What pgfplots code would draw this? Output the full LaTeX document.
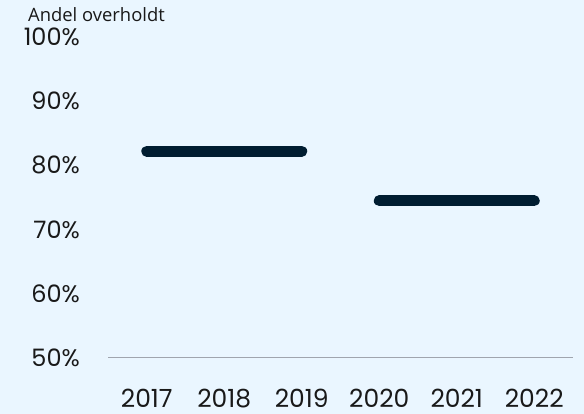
\documentclass[border=0pt]{standalone}
\usepackage{fontspec}
\setmainfont{Poppins}
\newfontfamily\titlefont{Open Sans}
\usepackage{pgfplots}
\pgfplotsset{compat=1.18}
\definecolor{bg}{HTML}{EAF6FF}
\definecolor{navy}{HTML}{001D31}
\definecolor{basegray}{HTML}{A0A5AE}
\begin{document}
\begin{tikzpicture}
\fill[bg] (0,0) rectangle (584pt,414pt);
\useasboundingbox (0,0) rectangle (584pt,414pt);
\begin{axis}[at={(108pt,56pt)}, anchor=south west, scale only axis, width=465pt, height=321pt,
  xmin=-0.5, xmax=5.5, ymin=50, ymax=100,
  xtick={0,1,2,3,4,5}, xticklabels={2017,2018,2019,2020,2021,2022},
  ytick={50,60,70,80,90,100},
  yticklabel={\pgfmathprintnumber{\tick}\%},
  axis x line*=bottom, axis y line*=left,
  x axis line style={draw=basegray, line width=1pt, -},
  y axis line style={draw=none},
  major tick length=0pt,
  tick label style={text=black!90},
  xticklabel style={font=\fontsize{25}{25}\selectfont, anchor=base, inner sep=0pt, yshift=-50pt},
  yticklabel style={font=\fontsize{24}{24}\selectfont, anchor=east, inner sep=0pt, xshift=-28pt},
  /pgf/number format/assume math mode=true,
  clip=false]
\addplot[navy, line width=11pt, line cap=round] coordinates {(0,82.2) (1,82.2) (2,82.2)};
\addplot[navy, line width=11pt, line cap=round] coordinates {(3,74.5) (4,74.5) (5,74.5)};
\end{axis}
\node[anchor=base west, font=\titlefont\fontsize{18.4}{18.4}\selectfont, inner sep=0pt, text=black!90] at (28pt,392.3pt) {Andel overholdt};
\end{tikzpicture}
\end{document}
